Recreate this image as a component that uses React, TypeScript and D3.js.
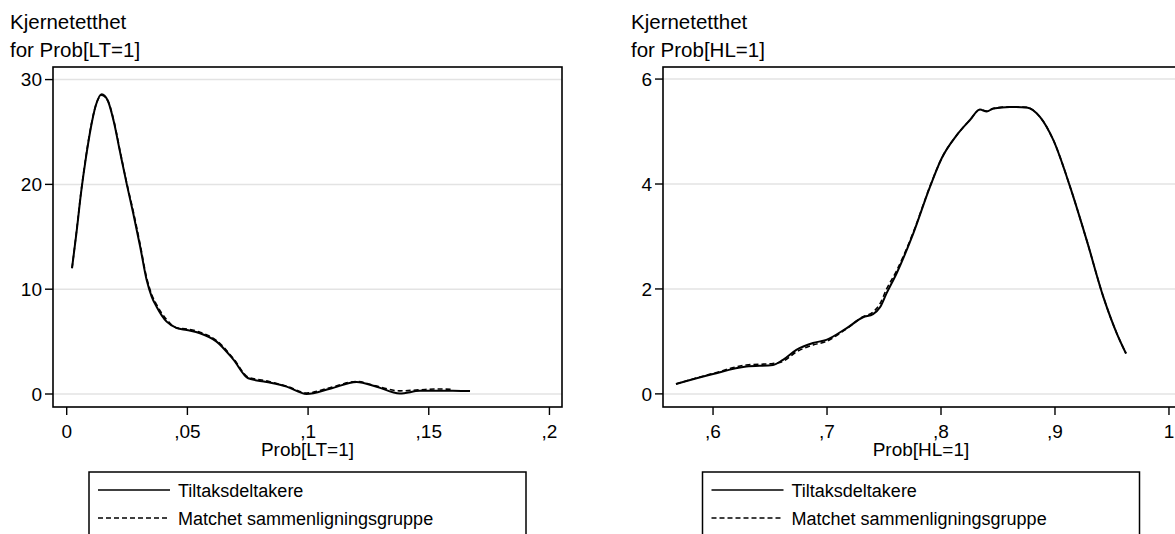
import * as d3 from 'd3';

// Prob[LT=1] density
const LT_X = [0.0022, 0.004, 0.006, 0.008, 0.01, 0.012, 0.0145, 0.017, 0.0195, 0.022, 0.0249, 0.0276, 0.0304, 0.0331, 0.0352, 0.0373, 0.0414, 0.0456, 0.0497, 0.0552, 0.0621, 0.069, 0.0752, 0.0828, 0.0911, 0.0994, 0.1091, 0.1201, 0.1284, 0.138, 0.1463, 0.1533, 0.16, 0.1671];
const LT_TREATED = [12.0, 15.3, 19.3, 22.6, 25.4, 27.5, 28.6, 28.0, 26.0, 23.2, 20.0, 17.2, 14.1, 10.9, 9.3, 8.3, 6.9, 6.3, 6.1, 5.8, 5.0, 3.3, 1.5, 1.15, 0.7, 0.0, 0.5, 1.15, 0.7, 0.05, 0.3, 0.32, 0.3, 0.28];
const LT_MATCHED = [12.0, 15.4, 19.4, 22.7, 25.5, 27.5, 28.5, 28.0, 26.1, 23.3, 20.1, 17.4, 14.3, 11.1, 9.5, 8.5, 7.1, 6.3, 6.2, 5.9, 5.1, 3.4, 1.6, 1.25, 0.75, 0.1, 0.6, 1.2, 0.75, 0.3, 0.4, 0.48, 0.45, null];
const LT_TICKS = [0, 0.05, 0.1, 0.15, 0.2];
const LT_TICK_LABELS = ['0', ',05', ',1', ',15', ',2'];
const LT_YTICKS = [0, 10, 20, 30];

// Prob[HL=1] density
const HL_X = [0.5675, 0.6, 0.6292, 0.6526, 0.6614, 0.6731, 0.6877, 0.6994, 0.717, 0.7316, 0.7404, 0.7465, 0.7523, 0.7611, 0.7757, 0.7904, 0.8006, 0.8138, 0.8254, 0.8342, 0.8401, 0.8459, 0.8605, 0.8751, 0.8868, 0.8985, 0.9132, 0.9278, 0.9424, 0.9541, 0.9623];
const HL_TREATED = [0.19, 0.38, 0.52, 0.55, 0.65, 0.84, 0.97, 1.03, 1.25, 1.46, 1.52, 1.65, 1.92, 2.3, 3.06, 3.95, 4.49, 4.93, 5.22, 5.42, 5.38, 5.44, 5.47, 5.46, 5.28, 4.84, 3.95, 2.93, 1.85, 1.16, 0.77];
const HL_MATCHED = [0.19, 0.39, 0.55, 0.58, 0.62, 0.8, 0.93, 1.0, 1.24, 1.47, 1.56, 1.72, 2.0, 2.35, 3.08, 3.96, 4.49, 4.93, 5.22, 5.42, 5.39, 5.44, 5.47, 5.46, 5.28, 4.84, 3.95, 2.93, 1.85, 1.16, 0.77];
const HL_TICKS = [0.6, 0.7, 0.8, 0.9, 1];
const HL_TICK_LABELS = [',6', ',7', ',8', ',9', '1'];
const HL_YTICKS = [0, 2, 4, 6];

const LEGEND = ['Tiltaksdeltakere', 'Matchet sammenligningsgruppe'];

const FONT = '"Liberation Sans", Arial, Helvetica, sans-serif';

type PanelProps = {
  left: number;
  right: number;
  xDomain: [number, number];
  yDomain: [number, number];
  xs: number[];
  treated: number[];
  matched: (number | null)[];
  ticks: number[];
  tickLabels: string[];
  yTicks: number[];
  title: string;
  xTitle: string;
  titleX: number;
};

const Panel = (p: PanelProps) => {
  const top = 67;
  const bottom = 407;
  const x = d3.scaleLinear().domain(p.xDomain).range([p.left, p.right]);
  const y = d3.scaleLinear().domain(p.yDomain).range([bottom, top]);
  const cx = (p.left + p.right) / 2;

  const line = d3
    .line<[number, number | null]>()
    .defined((d) => d[1] != null)
    .x((d) => x(d[0]))
    .y((d) => y(d[1] as number))
    .curve(d3.curveMonotoneX);

  const solid = line(p.xs.map((v, i) => [v, p.treated[i]]));
  const dashed = line(p.xs.map((v, i) => [v, p.matched[i]]));

  const legW = 437;
  const legL = cx - legW / 2;

  return (
    <g fontFamily={FONT} fontSize={19} fill="#000">
      <text x={p.titleX} y={29} fontSize={20.5}>Kjernetetthet</text>
      <text x={p.titleX} y={57} fontSize={20.5}>{p.title}</text>

      {p.yTicks.map((t) => (
        <line key={'g' + t} x1={p.left} x2={p.right} y1={y(t)} y2={y(t)} stroke="#e3e3e3" strokeWidth={1.5} />
      ))}

      <rect x={p.left} y={top} width={p.right - p.left} height={bottom - top} fill="none" stroke="#000" strokeWidth={1.6} />

      {p.yTicks.map((t) => (
        <g key={'y' + t}>
          <line x1={p.left - 8} x2={p.left} y1={y(t)} y2={y(t)} stroke="#000" strokeWidth={1.4} />
          <text x={p.left - 11} y={y(t)} dy="0.36em" textAnchor="end">{t}</text>
        </g>
      ))}

      {p.ticks.map((t, i) => (
        <g key={'x' + t}>
          <line x1={x(t)} x2={x(t)} y1={bottom} y2={bottom + 8} stroke="#000" strokeWidth={1.4} />
          <text x={x(t)} y={438} textAnchor="middle">{p.tickLabels[i]}</text>
        </g>
      ))}
      <text x={cx} y={456} textAnchor="middle">{p.xTitle}</text>

      <path d={dashed ?? ''} fill="none" stroke="#000" strokeWidth={1.6} strokeDasharray="5,3" />
      <path d={solid ?? ''} fill="none" stroke="#000" strokeWidth={2} />

      <rect x={legL} y={472} width={legW} height={80} fill="none" stroke="#000" strokeWidth={1.5} />
      <line x1={legL + 9} x2={legL + 81} y1={490} y2={490} stroke="#000" strokeWidth={1.5} />
      <text x={legL + 89} y={497} fontSize={18}>{LEGEND[0]}</text>
      <line x1={legL + 9} x2={legL + 81} y1={518} y2={518} stroke="#000" strokeWidth={1.5} strokeDasharray="5,3" />
      <text x={legL + 89} y={525} fontSize={18}>{LEGEND[1]}</text>
    </g>
  );
};

export default function App() {
  return (
    <svg
      width={1175}
      height={534}
      style={{ position: 'absolute', left: 0, top: 0, background: '#fff' }}
    >
      <rect width={1175} height={534} fill="#fff" />
      <Panel
        left={53}
        right={562}
        xDomain={[-0.00568, 0.2052]}
        yDomain={[-1.24, 31.2]}
        xs={LT_X}
        treated={LT_TREATED}
        matched={LT_MATCHED}
        ticks={LT_TICKS}
        tickLabels={LT_TICK_LABELS}
        yTicks={LT_YTICKS}
        title="for Prob[LT=1]"
        xTitle="Prob[LT=1]"
        titleX={10}
      />
      <Panel
        left={663}
        right={1179}
        xDomain={[0.5561, 1.0088]}
        yDomain={[-0.25, 6.23]}
        xs={HL_X}
        treated={HL_TREATED}
        matched={HL_MATCHED}
        ticks={HL_TICKS}
        tickLabels={HL_TICK_LABELS}
        yTicks={HL_YTICKS}
        title="for Prob[HL=1]"
        xTitle="Prob[HL=1]"
        titleX={631}
      />
    </svg>
  );
}
